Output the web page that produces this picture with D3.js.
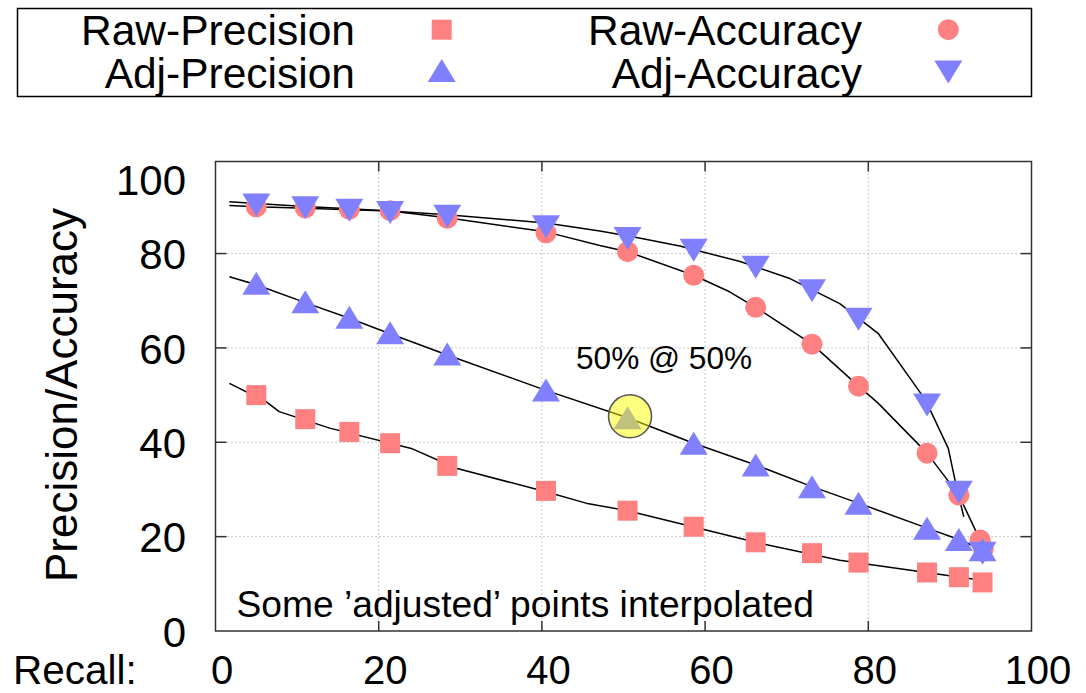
<!DOCTYPE html>
<html>
<head>
<meta charset="utf-8">
<script src="https://cdn.jsdelivr.net/npm/d3@7"></script>
<style>
  html, body { margin: 0; padding: 0; background: #fff; }
  svg { display: block; }
  text { font-family: "Liberation Sans", Arial, Helvetica, sans-serif; fill: #000; }
</style>
</head>
<body>
<svg id="chart" width="1086" height="693"></svg>
<script>
// ---------- data ----------
const seriesNames = ["Raw-Precision", "Raw-Accuracy", "Adj-Precision", "Adj-Accuracy"];
const recallTicks = [0, 20, 40, 60, 80, 100];
const valueTicks = [0, 20, 40, 60, 80, 100];
const gridTicks = [20, 40, 60, 80];

// marker points
const rawPrecRecall = [5.0, 11.0, 16.4, 21.4, 28.4, 40.5, 50.5, 58.6, 66.2, 73.1, 78.8, 87.2, 91.1, 94.0];
const rawPrecValue  = [50.0, 44.9, 42.2, 39.8, 35.0, 29.7, 25.5, 22.1, 18.8, 16.5, 14.5, 12.4, 11.4, 10.3];
const adjPrecRecall = [5.0, 11.0, 16.4, 21.4, 28.4, 40.5, 50.5, 58.6, 66.2, 73.1, 78.8, 87.2, 91.1, 94.0];
const adjPrecValue  = [73.7, 69.8, 66.5, 63.2, 58.7, 51.1, 45.2, 39.8, 35.2, 30.6, 27.1, 21.8, 19.4, 17.2];
const rawAccRecall  = [5.0, 11.0, 16.4, 21.4, 28.4, 40.5, 50.5, 58.6, 66.2, 73.1, 78.8, 87.2, 91.1, 93.7, 94.1];
const rawAccValue   = [89.9, 89.7, 89.4, 89.1, 87.5, 84.4, 80.4, 75.4, 68.6, 60.8, 51.9, 37.7, 28.8, 19.3, 17.5];
const adjAccRecall  = [5.0, 11.0, 16.4, 21.4, 28.4, 40.5, 50.5, 58.6, 66.2, 73.1, 78.8, 87.2, 91.1, 94.0];
const adjAccValue   = [90.3, 89.7, 89.2, 88.7, 87.9, 85.7, 83.2, 80.7, 77.1, 72.1, 66.1, 47.9, 29.4, 16.5];

// curves (finer lines through the points)
const rawPrecLineRecall = [1.7, 6.2, 7.8, 14.0, 24.0, 29.5, 40.5, 45.4, 50.5, 58.5, 66.2, 76.5, 88.0, 93.7];
const rawPrecLineValue  = [52.5, 48.6, 46.5, 43.0, 38.7, 34.5, 29.5, 27.1, 25.5, 22.1, 18.8, 15.0, 12.2, 10.8];
const adjPrecLineRecall = [1.7, 5.0, 11.0, 16.4, 21.4, 28.4, 40.5, 50.5, 58.6, 66.2, 73.1, 78.8, 87.2, 91.1, 94.0];
const adjPrecLineValue  = [75.1, 73.4, 69.6, 66.3, 63.0, 58.5, 51.0, 45.2, 39.8, 35.2, 30.6, 27.1, 21.8, 19.4, 17.2];
const rawAccLineRecall  = [1.7, 5.0, 11.0, 16.4, 21.4, 28.4, 40.5, 47.1, 50.5, 58.6, 63.0, 66.2, 73.1, 78.8, 81.2, 87.2, 91.1, 93.5];
const rawAccLineValue   = [90.2, 89.9, 89.6, 89.3, 89.0, 87.6, 84.6, 81.7, 80.4, 75.4, 71.9, 68.6, 60.8, 51.9, 48.3, 37.7, 28.8, 20.0];
const adjAccLineRecall  = [1.7, 5.0, 11.0, 16.4, 21.4, 28.4, 40.5, 47.1, 51.6, 56.9, 64.3, 70.4, 76.5, 81.2, 87.0, 89.8, 90.8, 91.7];
const adjAccLineValue   = [91.0, 90.6, 90.0, 89.5, 89.0, 88.2, 86.5, 84.8, 83.4, 81.6, 78.3, 74.7, 69.4, 63.1, 49.0, 38.7, 30.6, 24.2];

// highlighted point & annotations
const highlightRecall = [50.8];
const highlightValue = [45.5];
const highlightLabel = "50% @ 50%";
const noteLabel = "Some \u2019adjusted\u2019 points interpolated";
const xAxisLabel = "Recall:";
const yAxisLabel = "Precision/Accuracy";

const colorRaw = "#ff8080";
const colorAdj = "#8080ff";

// ---------- layout ----------
const svg = d3.select("#chart");
const left = 215.5, right = 1031.5, bottom = 631, topFrame = 161.5;
const x = d3.scaleLinear().domain([0, 100]).range([left, right]);
const y = d3.scaleLinear().domain([0, 100]).range([bottom, 159.2]);

const zip = (a, b) => a.map((v, i) => [v, b[i]]);

// grid
const grid = svg.append("g");
grid.selectAll("line.gx").data(gridTicks).join("line")
  .attr("x1", d => x(d)).attr("x2", d => x(d))
  .attr("y1", topFrame).attr("y2", bottom)
  .attr("stroke", "#a0a0a0").attr("stroke-width", 1).attr("stroke-dasharray", "1.2,2.8");
grid.selectAll("line.gy").data(gridTicks).join("line")
  .attr("y1", d => y(d)).attr("y2", d => y(d))
  .attr("x1", left).attr("x2", right)
  .attr("stroke", "#a0a0a0").attr("stroke-width", 1).attr("stroke-dasharray", "1.2,2.8");

// lines
const line = d3.line().x(d => x(d[0])).y(d => y(d[1]));
const curves = [
  zip(rawPrecLineRecall, rawPrecLineValue),
  zip(adjPrecLineRecall, adjPrecLineValue),
  zip(rawAccLineRecall, rawAccLineValue),
  zip(adjAccLineRecall, adjAccLineValue)
];
svg.append("g").selectAll("path").data(curves).join("path")
  .attr("d", line).attr("fill", "none").attr("stroke", "#000").attr("stroke-width", 1.5)
  .attr("stroke-linejoin", "round");

// markers
const triUp = "M0,-11.5L14,11.5L-14,11.5Z";
const triDown = "M0,11.5L14,-11.5L-14,-11.5Z";
const mk = svg.append("g");
mk.selectAll("rect.rp").data(zip(rawPrecRecall, rawPrecValue)).join("rect")
  .attr("x", d => x(d[0]) - 10).attr("y", d => y(d[1]) - 10)
  .attr("width", 20).attr("height", 20).attr("fill", colorRaw);
mk.selectAll("circle.ra").data(zip(rawAccRecall, rawAccValue)).join("circle")
  .attr("cx", d => x(d[0])).attr("cy", d => y(d[1])).attr("r", 10.5).attr("fill", colorRaw);
mk.selectAll("path.ap").data(zip(adjPrecRecall, adjPrecValue)).join("path")
  .attr("d", triUp).attr("transform", d => `translate(${x(d[0])},${y(d[1])})`).attr("fill", colorAdj);
mk.selectAll("path.aa").data(zip(adjAccRecall, adjAccValue)).join("path")
  .attr("d", triDown).attr("transform", d => `translate(${x(d[0])},${y(d[1])})`).attr("fill", colorAdj);

// highlight circle
svg.append("g").selectAll("circle").data(zip(highlightRecall, highlightValue)).join("circle")
  .attr("cx", d => x(d[0])).attr("cy", d => y(d[1])).attr("r", 21.5)
  .attr("fill", "rgba(255,255,0,0.5)").attr("stroke", "#555").attr("stroke-width", 1.5);

svg.append("text").attr("x", 576).attr("y", 369.3).attr("font-size", 31.6).text(highlightLabel);
svg.append("text").attr("x", 236.5).attr("y", 617.3).attr("font-size", 37.2).text(noteLabel);

// frame
svg.append("rect").attr("x", left).attr("y", topFrame).attr("width", right - left).attr("height", bottom - topFrame)
  .attr("fill", "none").attr("stroke", "#333").attr("stroke-width", 1.5);

// ticks (mirrored, inward)
const tk = svg.append("g").attr("stroke", "#333").attr("stroke-width", 1.5);
tk.selectAll("line.b").data(recallTicks.slice(1, -1)).join("line")
  .attr("x1", d => x(d)).attr("x2", d => x(d)).attr("y1", bottom).attr("y2", bottom - 10);
tk.selectAll("line.t").data(recallTicks.slice(1, -1)).join("line")
  .attr("x1", d => x(d)).attr("x2", d => x(d)).attr("y1", topFrame).attr("y2", topFrame + 10);
tk.selectAll("line.l").data(valueTicks.slice(1, -1)).join("line")
  .attr("y1", d => y(d)).attr("y2", d => y(d)).attr("x1", left).attr("x2", left + 11);
tk.selectAll("line.r").data(valueTicks.slice(1, -1)).join("line")
  .attr("y1", d => y(d)).attr("y2", d => y(d)).attr("x1", right).attr("x2", right - 11);

// axes labels via d3 axes
const xAxis = svg.append("g").attr("transform", `translate(6,${684})`)
  .call(d3.axisBottom(x).tickValues(recallTicks).tickSize(0).tickPadding(0).tickFormat(d3.format("d")));
xAxis.select(".domain").remove();
xAxis.selectAll("text").attr("font-size", 40).attr("dy", 0).attr("font-family", null);

const yAxis = svg.append("g").attr("transform", `translate(186,0)`)
  .call(d3.axisLeft(y).tickValues(valueTicks).tickSize(0).tickPadding(0).tickFormat(d3.format("d")));
yAxis.select(".domain").remove();
yAxis.selectAll("text").attr("font-size", 42).attr("font-family", null).attr("dy", "0.36em")
  .filter(d => d === 100).attr("dy", "0.85em");

svg.append("text").attr("x", 13).attr("y", 684).attr("font-size", 40.5).text(xAxisLabel);
svg.append("text").attr("transform", "translate(77,395) rotate(-90)")
  .attr("text-anchor", "middle").attr("font-size", 44).text(yAxisLabel);

// legend
const legend = svg.append("g");
legend.append("rect").attr("x", 17.5).attr("y", 8.5).attr("width", 1031.5 - 17.5).attr("height", 96.5 - 8.5)
  .attr("fill", "none").attr("stroke", "#000").attr("stroke-width", 1.5);
const legendItems = [
  { name: seriesNames[0], tx: 355, mx: 441.7, by: 45, my: 29.7, shape: "square", color: colorRaw },
  { name: seriesNames[1], tx: 862, mx: 948.3, by: 45, my: 29.7, shape: "circle", color: colorRaw },
  { name: seriesNames[2], tx: 355, mx: 441.7, by: 88, my: 70.5, shape: "up", color: colorAdj },
  { name: seriesNames[3], tx: 862, mx: 948.3, by: 88, my: 72, shape: "down", color: colorAdj }
];
legendItems.forEach(it => {
  legend.append("text").attr("x", it.tx).attr("y", it.by).attr("text-anchor", "end")
    .attr("font-size", 42.5).text(it.name);
  if (it.shape === "square") {
    legend.append("rect").attr("x", it.mx - 10).attr("y", it.my - 10).attr("width", 20).attr("height", 20).attr("fill", it.color);
  } else if (it.shape === "circle") {
    legend.append("circle").attr("cx", it.mx).attr("cy", it.my).attr("r", 10.5).attr("fill", it.color);
  } else {
    legend.append("path").attr("d", it.shape === "up" ? triUp : triDown)
      .attr("transform", `translate(${it.mx},${it.my})`).attr("fill", it.color);
  }
});
</script>
</body>
</html>
